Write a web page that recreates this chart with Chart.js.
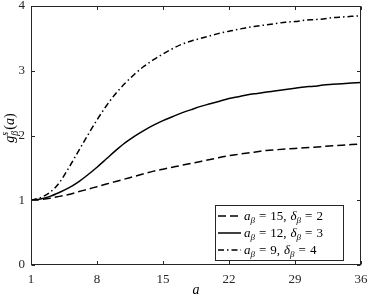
<!DOCTYPE html>
<html><head><meta charset="utf-8">
<script src="https://cdn.jsdelivr.net/npm/chart.js@4/dist/chart.umd.min.js"></script>
<style>html,body{margin:0;padding:0;background:#fff}</style>
</head><body>
<canvas id="c" width="370" height="300"></canvas>
<script>
// ---- data ----
const aValues = [1,2,3,4,5,6,7,8,9,10,11,12,13,14,15,16,17,18,19,20,21,22,23,24,25,26,27,28,29,30,31,32,33,34,35,36];
const xTicks = [1,8,15,22,29,36];
const yTicks = [0,1,2,3,4];
// a_beta = 15, delta_beta = 2 (dashed)
const g15_2 = [1.00,1.01,1.03,1.06,1.09,1.13,1.17,1.21,1.25,1.29,1.33,1.37,1.41,1.45,1.48,1.51,1.54,1.57,1.60,1.63,1.66,1.69,1.71,1.73,1.75,1.77,1.78,1.79,1.80,1.81,1.82,1.83,1.84,1.85,1.86,1.87];
// a_beta = 12, delta_beta = 3 (solid)
const g12_3 = [1.00,1.02,1.06,1.12,1.19,1.28,1.39,1.51,1.64,1.77,1.89,1.99,2.08,2.16,2.23,2.29,2.35,2.40,2.45,2.49,2.53,2.57,2.60,2.63,2.65,2.67,2.69,2.71,2.73,2.75,2.76,2.78,2.79,2.80,2.81,2.82];
// a_beta = 9, delta_beta = 4 (dash-dot)
const g9_4 = [1.00,1.04,1.12,1.27,1.50,1.75,2.00,2.24,2.46,2.65,2.81,2.95,3.07,3.17,3.26,3.34,3.41,3.46,3.50,3.54,3.58,3.61,3.64,3.67,3.69,3.71,3.73,3.75,3.76,3.78,3.79,3.80,3.82,3.83,3.84,3.85];
const aBeta = [15,12,9];
const deltaBeta = [2,3,4];

const FONT = "'Liberation Serif', 'DejaVu Serif', serif";
const AX = '#262626';
const dashes = [[8,4],[],[6,3,1.5,3]];
const seriesList = [g15_2, g12_3, g9_4];

const datasets = seriesList.map((s,k)=>({
  label: 'a_β = '+aBeta[k]+', δ_β = '+deltaBeta[k],
  data: aValues.map((a,i)=>({x:a, y:s[i]})),
  borderColor:'#000', borderWidth:1.5, borderDash:dashes[k],
  pointRadius:0, fill:false, cubicInterpolationMode:'monotone'
}));

function drawPieces(ctx, pieces, x, y){
  let cx = x;
  for(const p of pieces){
    if(p.gap){ cx += p.gap; continue; }
    ctx.font = (p.it?'italic ':'') + p.size + 'px ' + FONT;
    ctx.fillText(p.t, cx, y + (p.dy||0));
    cx += ctx.measureText(p.t).width;
  }
  return cx - x;
}
function measurePieces(ctx, pieces){
  let w=0;
  for(const p of pieces){
    if(p.gap){ w+=p.gap; continue; }
    ctx.font = (p.it?'italic ':'') + p.size + 'px ' + FONT;
    w += ctx.measureText(p.t).width;
  }
  return w;
}

const decor = {
  id:'decor',
  afterDraw(chart){
    const {ctx, chartArea:ca, scales:{x, y}} = chart;
    ctx.save();
    const L = Math.round(ca.left)+0.5, R = Math.round(ca.right)-0.5;
    const T = Math.round(ca.top)+0.5, B = Math.round(ca.bottom)-0.5;
    ctx.strokeStyle = AX; ctx.lineWidth = 1; ctx.setLineDash([]);
    ctx.strokeRect(L, T, R-L, B-T);
    ctx.beginPath();
    for(const v of xTicks){
      const px = Math.round(x.getPixelForValue(v))+0.5;
      ctx.moveTo(px, B); ctx.lineTo(px, B-3.5);
      ctx.moveTo(px, T); ctx.lineTo(px, T+3.5);
    }
    for(const v of yTicks){
      const py = Math.round(y.getPixelForValue(v))+0.5;
      ctx.moveTo(L, py); ctx.lineTo(L+3.5, py);
      ctx.moveTo(R, py); ctx.lineTo(R-3.5, py);
    }
    ctx.stroke();

    // legend
    const lx = 215.5, ly = 205.5, lw = 128, lh = 55;
    ctx.fillStyle = '#fff';
    ctx.fillRect(lx, ly, lw, lh);
    ctx.strokeStyle = AX; ctx.lineWidth = 1;
    ctx.strokeRect(lx, ly, lw, lh);
    const rowsY = [216, 233, 250];
    ctx.fillStyle = '#000';
    ctx.textBaseline = 'alphabetic';
    ctx.textAlign = 'left';
    for(let k=0;k<3;k++){
      ctx.save();
      ctx.strokeStyle = '#000'; ctx.lineWidth = 1.5; ctx.setLineDash(dashes[k]);
      ctx.beginPath(); ctx.moveTo(218, rowsY[k]); ctx.lineTo(241, rowsY[k]); ctx.stroke();
      ctx.restore();
      const pieces = [
        {t:'a', it:true, size:13},
        {t:'β', it:true, size:9, dy:3},
        {gap:4},{t:'=', size:13},{gap:4},
        {t:aBeta[k]+',', size:13},{gap:4},
        {t:'δ', it:true, size:13},
        {t:'β', it:true, size:9, dy:3},
        {gap:4},{t:'=', size:13},{gap:4},
        {t:String(deltaBeta[k]), size:13}
      ];
      drawPieces(ctx, pieces, 244, rowsY[k]+4);
    }

    // x-axis title
    ctx.font = 'italic 14px ' + FONT;
    ctx.textAlign = 'center';
    ctx.fillText('a', (ca.left+ca.right)/2, 294);

    // y-axis title (rotated)
    ctx.textAlign = 'left';
    ctx.translate(14, 128);
    ctx.rotate(-Math.PI/2);
    const gW = measurePieces(ctx, [{t:'g', it:true, size:14}]);
    ctx.font = 'italic 10px ' + FONT;
    const sW = ctx.measureText('s').width, bW = ctx.measureText('β').width;
    const rest = [{gap:1},{t:'(', size:14},{t:'a', it:true, size:14},{t:')', size:14}];
    const restW = measurePieces(ctx, rest);
    const total = gW + Math.max(sW,bW) + restW;
    let sx = -total/2;
    drawPieces(ctx, [{t:'g', it:true, size:14}], sx, 0);
    ctx.font = 'italic 10px ' + FONT;
    ctx.fillText('s', sx+gW, -6);
    ctx.fillText('β', sx+gW, 4);
    drawPieces(ctx, rest, sx+gW+Math.max(sW,bW), 0);
    ctx.restore();
  }
};

new Chart(document.getElementById('c'), {
  type:'line',
  data:{datasets},
  options:{
    responsive:false, animation:false, devicePixelRatio:1,
    layout:{padding:{top:6, right:9, left:0, bottom:0}},
    plugins:{legend:{display:false}, tooltip:{enabled:false}},
    scales:{
      x:{
        type:'linear', min:1, max:36,
        afterBuildTicks(s){ s.ticks = xTicks.map(v=>({value:v})); },
        afterFit(s){ s.height = 35; s.paddingLeft = 0; s.paddingRight = 0; },
        grid:{display:true, drawOnChartArea:false, drawTicks:false},
        border:{display:false},
        ticks:{font:{family:FONT, size:13}, color:AX, padding:7, maxRotation:0, autoSkip:false}
      },
      y:{
        type:'linear', min:0, max:4,
        afterBuildTicks(s){ s.ticks = yTicks.map(v=>({value:v})); },
        afterFit(s){ s.width = 31; s.paddingTop = 0; s.paddingBottom = 0; },
        grid:{display:true, drawOnChartArea:false, drawTicks:false},
        border:{display:false},
        ticks:{font:{family:FONT, size:13}, color:AX, padding:6}
      }
    }
  },
  plugins:[decor]
});
</script>
</body></html>
